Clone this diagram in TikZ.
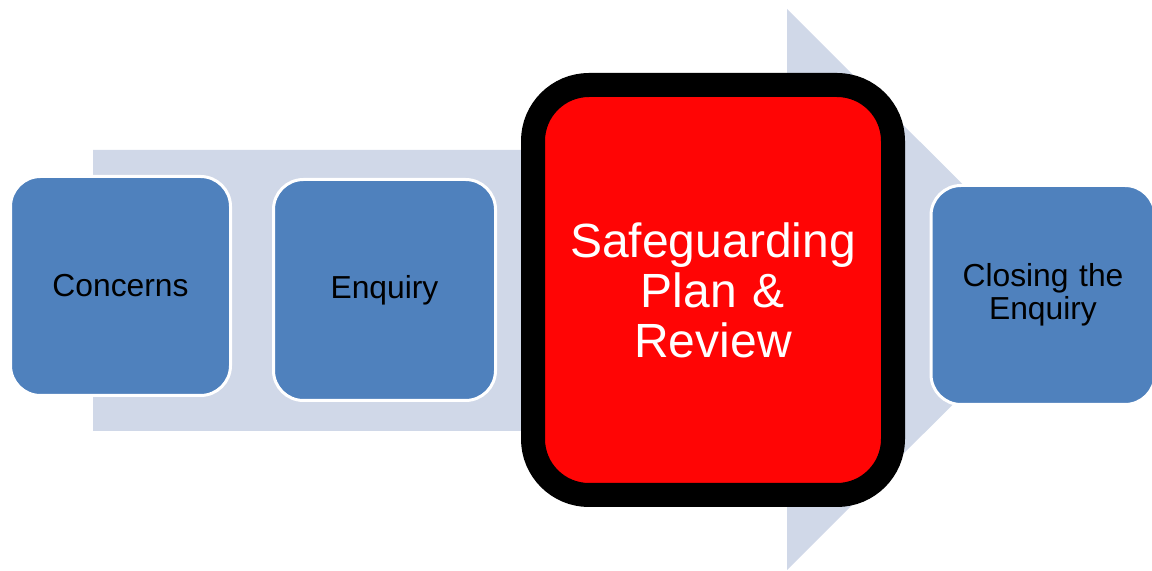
\documentclass[tikz,border=0pt]{standalone}
\usepackage{fontspec}
\setmainfont{Liberation Sans}
\definecolor{stepblue}{HTML}{4F81BD}
\definecolor{arrowgrey}{HTML}{D0D8E8}
\definecolor{planred}{HTML}{FF0505}
\begin{document}
\begin{tikzpicture}[x=0.5pt,y=-0.5pt,
		stepbox/.style={draw=white, line width=1.5pt, fill=stepblue, rounded corners=15pt,
			minimum width=110pt, minimum height=109.5pt, align=center, text width=100pt,
			font=\fontsize{15.9}{16.5}\selectfont, inner sep=0pt},
		planbox/.style={draw=black, line width=12pt, fill=planred, rounded corners=28pt,
			minimum width=180pt, minimum height=205pt, align=center, text width=160pt,
			text=white, font=\fontsize{24}{25}\selectfont, inner sep=0pt}]
			\useasboundingbox (0,0) rectangle (1152,571);
			\coordinate (s1) at (93,150) ;
			\coordinate (s2) at (787,150) ;
			\coordinate (h1) at (787,9) ;
			\coordinate (tip) at (1068,289.5) ;
			\coordinate (h2) at (787,570) ;
			\coordinate (s3) at (787,431) ;
			\coordinate (s4) at (93,431) ;
			\fill[arrowgrey] (s1) -- (s2) -- (h1) -- (tip) -- (h2) -- (s3) -- (s4) -- cycle ;
			\node[stepbox] (concerns) at (120.5,286) {Concerns};
			\node[stepbox, minimum width=111pt, minimum height=110.5pt] (enquiry) at (384.5,290) {Enquiry};
			\node[planbox] (plan) at (713,290) {Safeguarding\\Plan \&\\Review};
			\node[stepbox, minimum width=112pt] (closing) at (1043,295) {Closing the\\Enquiry};
		\end{tikzpicture}
\end{document}
